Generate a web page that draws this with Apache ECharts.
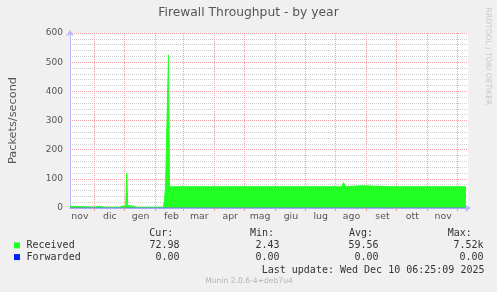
<!DOCTYPE html>
<html><head><meta charset="utf-8">
<script src="https://cdn.jsdelivr.net/npm/echarts@6/dist/echarts.min.js"></script>
<style>html,body{margin:0;padding:0;background:#f0f0f0}#c{width:497px;height:292px}</style>
</head><body><div id="c"></div>
<script>
// ---- data ----
const monthNames = ['gen','feb','mar','apr','mag','giu','lug','ago','set','ott','nov','dic'];
const axisStartUTC = [2024, 10, 7];
const axisEndUTC = [2025, 11, 12];
const yMax = 600;
const yStep = 100;

const recvDates = [
  '2024-11-07','2024-11-09','2024-12-02','2024-12-03','2024-12-06','2024-12-07',
  '2024-12-12','2024-12-13','2024-12-14','2024-12-17','2024-12-18','2024-12-19',
  '2024-12-26','2024-12-27','2025-01-02','2025-01-03','2025-01-04','2025-01-08',
  '2025-01-09','2025-01-13','2025-01-14','2025-01-15','2025-01-30','2025-01-31',
  '2025-02-01','2025-02-09','2025-02-10','2025-02-11','2025-02-13','2025-02-14',
  '2025-02-15','2025-03-28','2025-03-30','2025-04-01','2025-08-07','2025-08-09',
  '2025-08-11','2025-08-25','2025-09-01','2025-09-02','2025-09-22','2025-09-23',
  '2025-09-24','2025-10-06','2025-10-07','2025-10-08','2025-11-27','2025-11-28',
  '2025-11-29','2025-12-10'
];
const recvValues = [
  6, 3, 3, 6, 6, 3,
  3, 5, 3, 3, 6, 3,
  3, 7, 8, 120, 8, 7,
  3, 3, 5, 3, 3, 6,
  3, 3, 30, 73, 73, 525,
  73, 73, 75, 73, 73, 87,
  73, 76, 76, 73, 73, 71,
  73, 73, 71, 73, 73, 71,
  73, 73
];
const fwdDates = ['2024-11-07', '2025-12-10'];
const fwdValues = [0, 0];

const statHeaders = ['Cur:', 'Min:', 'Avg:', 'Max:'];
const recvStats = ['72.98', '2.43', '59.56', '7.52k'];
const fwdStats = ['0.00', '0.00', '0.00', '0.00'];

// ---- build ----
const days = [];
for (let t = Date.UTC(...axisStartUTC); t <= Date.UTC(...axisEndUTC); t += 86400000) {
  days.push(new Date(t).toISOString().slice(0, 10));
}
const recvData = recvDates.map((d, i) => [d, recvValues[i]]);
const fwdData = fwdDates.map((d, i) => [d, fwdValues[i]]);

const GREEN = '#22ff22', BLUE = '#0022ff';
const MONO = 'DejaVu Sans Mono', SANS = 'DejaVu Sans';
const major = '#f2a0a0', minor = '#cfcfcf', axisCol = '#b8b8ff';

const statX = [179.5, 279.5, 378.5, 483.5];
const headX = [149.3, 250, 349, 447.7];
const graphic = [];
statHeaders.forEach((h, i) => graphic.push({type:'text', left: headX[i], top: 228.5,
  style:{text:h, font:'10px "DejaVu Sans Mono"', fill:'#333'}}));
recvStats.forEach((s, i) => graphic.push({type:'text', x: statX[i], y: 245.5,
  style:{text:s, font:'10px "DejaVu Sans Mono"', fill:'#333', align:'right', verticalAlign:'middle'}}));
fwdStats.forEach((s, i) => graphic.push({type:'text', x: statX[i], y: 257.2,
  style:{text:s, font:'10px "DejaVu Sans Mono"', fill:'#333', align:'right', verticalAlign:'middle'}}));
graphic.push({type:'text', x: 261.7, y: 270, style:{text:'Last update: Wed Dec 10 06:25:09 2025',
  font:'10px "DejaVu Sans Mono"', fill:'#333', verticalAlign:'middle'}});
graphic.push({type:'text', x: 249, y: 281.5, style:{text:'Munin 2.0.6-4+deb7u4',
  font:'7.6px "DejaVu Sans"', fill:'#b4b4b4', align:'center', verticalAlign:'middle'}});
graphic.push({type:'text', x: 488, y: 56.5, rotation: -Math.PI / 2, style:{text:'RRDTOOL / TOBI OETIKER',
  font:'7.6px "DejaVu Sans"', fill:'#c8c8c8', align:'center', verticalAlign:'middle'}});

const chart = echarts.init(document.getElementById('c'), null, {renderer:'canvas'});
chart.setOption({
  backgroundColor: '#f0f0f0',
  animation: false,
  title: {
    text: 'Firewall Throughput - by year', left: 'center', top: 7, padding: 0,
    textStyle: {fontFamily: SANS, fontSize: 12.3, fontWeight: 'normal', color: '#555'}
  },
  legend: {
    orient: 'vertical', left: 14, top: 239.5, itemWidth: 6, itemHeight: 6, itemGap: 0,
    icon: 'rect', selectedMode: false, padding: 0,
    textStyle: {fontFamily: MONO, fontSize: 10, color: '#333', lineHeight: 11.7, padding: [0, 0, 0, 1.5]},
    data: ['Received', 'Forwarded']
  },
  grid: {left: 67, right: 29, top: 33, bottom: 84, show: true, backgroundColor: '#ffffff', borderWidth: 0},
  xAxis: {
    type: 'category', data: days, boundaryGap: false,
    axisLine: {show: true, lineStyle: {color: axisCol, width: 1}, symbol: ['none', 'arrow'], symbolSize: [6, 6], symbolOffset: [0, 3]},
    axisTick: {show: true, length: 3, interval: (i, v) => v.slice(8) === '01', lineStyle: {color: major}},
    axisLabel: {
      interval: (i, v) => v.slice(8) === '17', margin: 4,
      formatter: v => monthNames[+v.slice(5, 7) - 1],
      fontFamily: SANS, fontSize: 9.4, color: '#555'
    },
    splitLine: {show: true, interval: (i, v) => v.slice(8) === '01', lineStyle: {color: major, type: 'dotted', width: 1}}
  },
  yAxis: {
    type: 'value', min: 0, max: yMax, interval: yStep,
    name: 'Packets/second', nameLocation: 'middle', nameGap: 51, nameRotate: 90,
    nameTextStyle: {fontFamily: SANS, fontSize: 11.3, color: '#555'},
    axisLine: {show: true, lineStyle: {color: axisCol, width: 1}, symbol: ['none', 'arrow'], symbolSize: [6, 6], symbolOffset: [0, 3]},
    axisTick: {show: false},
    axisLabel: {margin: 7, fontFamily: SANS, fontSize: 9, color: '#555'},
    splitLine: {show: true, lineStyle: {color: major, type: 'dotted', width: 1}},
    minorTick: {show: false, splitNumber: 5},
    minorSplitLine: {show: true, lineStyle: {color: minor, type: 'dotted', width: 1}}
  },
  series: [
    {name: 'Received', type: 'line', data: recvData, showSymbol: false, symbol: 'none',
     itemStyle: {color: GREEN}, lineStyle: {color: GREEN, width: 1}, areaStyle: {color: GREEN, opacity: 1}, z: 3},
    {name: 'Forwarded', type: 'line', data: fwdData, showSymbol: false, symbol: 'none',
     itemStyle: {color: BLUE}, lineStyle: {color: '#6f6fff', width: 1}, z: 4}
  ],
  graphic: graphic
});
</script></body></html>
